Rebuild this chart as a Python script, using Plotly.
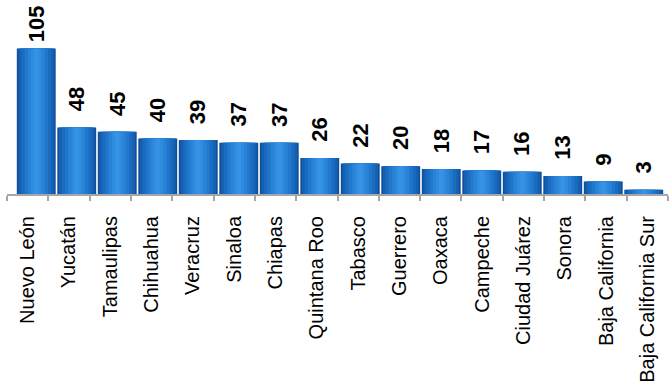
import plotly.graph_objects as go

states = ["Nuevo León", "Yucatán", "Tamaulipas", "Chihuahua", "Veracruz", "Sinaloa",
          "Chiapas", "Quintana Roo", "Tabasco", "Guerrero", "Oaxaca", "Campeche",
          "Ciudad Juárez", "Sonora", "Baja California", "Baja California Sur"]
values = [105, 48, 45, 40, 39, 37, 37, 26, 22, 20, 18, 17, 16, 13, 9, 3]

W, H = 670, 383
T, B = 0, 183
YMAX = 140
FONT = "Arial, 'Liberation Sans', sans-serif"

# cylinder-like shading layers (width fraction, colour)
layers = [(0.96, "#0F4F9C"), (0.88, "#1560B0"), (0.74, "#1A6CC0"),
          (0.58, "#2077CC"), (0.42, "#2882D6"), (0.26, "#2F8BDE"), (0.12, "#3592E4")]

fig = go.Figure()
for w, c in layers:
    fig.add_trace(go.Bar(
        x=states, y=values, width=w, marker=dict(color=c, line=dict(width=0)),
        cliponaxis=False, hoverinfo="skip", showlegend=False, xaxis="x", yaxis="y"))

# invisible trace to carry the category axis with labels / boundary ticks
fig.add_trace(go.Scatter(x=states, y=values, mode="markers", marker=dict(opacity=0),
                         hoverinfo="skip", showlegend=False, xaxis="x2", yaxis="y"))

# value labels above the bars (gap reduced when near the top edge)
ppu = (H - T - B) / YMAX
label_h = 34
for s, v in zip(states, values):
    top_px = (H - B) - v * ppu
    gap = min(14, top_px - 12 - label_h)
    fig.add_annotation(x=s, y=v, xref="x", yref="y", text=f"<b>{v}</b>", showarrow=False,
                       textangle=-90, yanchor="bottom", xanchor="center", yshift=gap,
                       font=dict(family=FONT, size=22, color="black"))

fig.update_layout(
    width=W, height=H, barmode="overlay",
    margin=dict(l=0, r=0, t=T, b=B),
    paper_bgcolor="white", plot_bgcolor="rgba(0,0,0,0)",
    xaxis=dict(domain=[16 / W, 664 / W], type="category", categoryorder="array",
               categoryarray=states, range=[-0.5, 15.5], showticklabels=False,
               showgrid=False, zeroline=False, showline=False, ticks=""),
    xaxis2=dict(domain=[7 / W, 668 / W], anchor="y", type="category", categoryorder="array",
                categoryarray=states, range=[-0.5, 15.5], tickangle=-90,
                tickfont=dict(family=FONT, size=20, color="black"),
                ticklabelstandoff=12,
                showgrid=False, zeroline=False, showline=True, linecolor="#A6A6A6",
                linewidth=2, ticks="outside", tickson="boundaries", ticklen=5,
                tickcolor="#A6A6A6", tickwidth=2),
    yaxis=dict(range=[0, YMAX], visible=False, showgrid=False, zeroline=False),
)

fig.write_html("out.html")
